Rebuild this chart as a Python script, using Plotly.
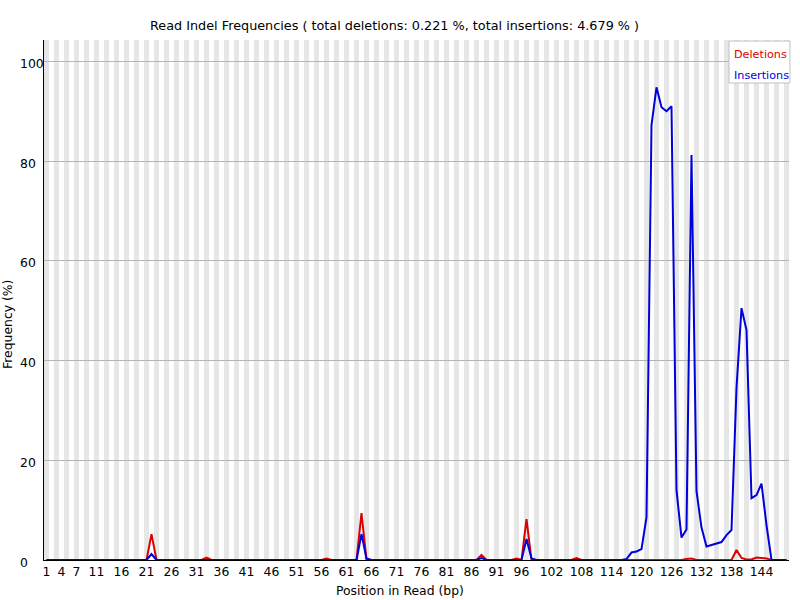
import plotly.graph_objects as go

# read positions 1..149
positions = list(range(1, 150))

deletions = [
    0, 0, 0, 0, 0, 0, 0, 0, 0, 0,
    0, 0, 0, 0, 0, 0, 0, 0, 0, 0,
    0, 5.2, 0, 0, 0, 0, 0, 0, 0, 0,
    0, 0, 0.5, 0, 0, 0, 0, 0, 0, 0,
    0, 0, 0, 0, 0, 0, 0, 0, 0, 0,
    0, 0, 0, 0, 0, 0, 0.3, 0, 0, 0,
    0, 0, 0, 9.4, 0, 0, 0, 0, 0, 0,
    0, 0, 0, 0, 0, 0, 0, 0, 0, 0,
    0, 0, 0, 0, 0, 0, 0, 1.0, 0, 0,
    0, 0, 0, 0, 0.3, 0, 8.2, 0, 0, 0,
    0, 0, 0, 0, 0, 0, 0.4, 0, 0, 0,
    0, 0, 0, 0, 0, 0, 0, 0, 0, 0,
    0, 0, 0, 0, 0, 0, 0, 0, 0.2, 0.3,
    0, 0, 0, 0, 0, 0, 0, 0, 2.0, 0.4,
    0.1, 0.1, 0.5, 0.4, 0.3, 0, 0, 0, 0,
]

insertions = [
    0, 0, 0, 0, 0, 0, 0, 0, 0, 0,
    0, 0, 0, 0, 0, 0, 0, 0, 0, 0,
    0, 1.2, 0, 0, 0, 0, 0, 0, 0, 0,
    0, 0, 0, 0, 0, 0, 0, 0, 0, 0,
    0, 0, 0, 0, 0, 0, 0, 0, 0, 0,
    0, 0, 0, 0, 0, 0, 0, 0, 0, 0,
    0, 0, 0, 5.2, 0.3, 0, 0, 0, 0, 0,
    0, 0, 0, 0, 0, 0, 0, 0, 0, 0,
    0, 0, 0, 0, 0, 0, 0, 0.4, 0, 0,
    0, 0, 0, 0, 0, 0, 4.2, 0.3, 0, 0,
    0, 0, 0, 0, 0, 0, 0, 0, 0, 0,
    0, 0, 0, 0, 0, 0, 0.2, 1.5, 1.7, 2.2,
    8.6, 87.2, 94.8, 90.8, 90.0, 91.0, 14.0, 4.5, 6.1, 81.2,
    13.8, 6.5, 2.7, 3.0, 3.3, 3.6, 5.0, 6.0, 34.5, 50.5,
    46.1, 12.4, 13.0, 15.3, 7.0, 0, 0, 0, 0,
]

x_tick_vals = [1, 4, 7, 11, 16, 21, 26, 31, 36, 41, 46, 51, 56, 61, 66, 71, 76, 81,
               86, 91, 96, 102, 108, 114, 120, 126, 132, 138, 144]
x_tick_text = [str(v) for v in x_tick_vals]
y_tick_vals = [0, 20, 40, 60, 80, 100]

y_max = max(insertions) * 1.1

FONT = "DejaVu Sans"
FS = 12.4
RED = "rgb(220,0,0)"
BLUE = "rgb(0,0,220)"

fig = go.Figure()
fig.add_trace(go.Scatter(x=positions, y=deletions, mode="lines",
                         line=dict(color=RED, width=2), name="Deletions"))
fig.add_trace(go.Scatter(x=positions, y=insertions, mode="lines",
                         line=dict(color=BLUE, width=2), name="Insertions"))

# alternating grey stripes behind the data
for p in positions:
    if p % 2 == 1:
        fig.add_shape(type="rect", xref="x", yref="paper", x0=p - 0.5, x1=p + 0.5,
                      y0=0, y1=1, fillcolor="rgb(230,230,230)", line_width=0,
                      layer="below")

# legend box (pixels 729..790 x 41..83)
fig.add_shape(type="rect", xref="paper", yref="paper", x0=0.9195, x1=1.0013,
              y0=0.9173, y1=0.998, fillcolor="white",
              line=dict(color="rgb(192,192,192)", width=1), layer="above")

annotations = [
    dict(text="Deletions", x=0.9235, y=0.9712, font=dict(color=RED)),
    dict(text="Insertions", x=0.9235, y=0.9313, font=dict(color=BLUE)),
]
for a in annotations:
    a.update(xref="paper", yref="paper", xanchor="left", yanchor="middle",
             showarrow=False)
    a["font"].update(family=FONT, size=11.2)
    fig.add_annotation(**a)

# y tick labels are left aligned in the original
for v in y_tick_vals:
    fig.add_annotation(text=str(v), xref="paper", yref="y", x=-0.0349, y=v,
                       xanchor="left", yanchor="middle", yshift=-2, showarrow=False,
                       font=dict(family=FONT, size=FS, color="black"))

fig.add_annotation(text="Frequency (%)", xref="paper", yref="paper", x=-0.0483,
                   y=0.452, textangle=-90, showarrow=False, xanchor="center",
                   yanchor="middle", font=dict(family=FONT, size=FS, color="black"))
fig.add_annotation(text="Position in Read (bp)", xref="paper", yref="paper",
                   x=0.478, y=-0.0577, showarrow=False, xanchor="center",
                   yanchor="middle", font=dict(family=FONT, size=FS, color="black"))
fig.add_annotation(text="Read Indel Frequencies ( total deletions: 0.221 %, total insertions: 4.679 % )",
                   xref="paper", yref="paper", x=0.4698, y=1.0288, showarrow=False,
                   xanchor="center", yanchor="middle",
                   font=dict(family=FONT, size=12.8, color="black"))

fig.update_layout(
    width=800, height=600,
    margin=dict(l=44, r=11, t=40, b=40),
    paper_bgcolor="white", plot_bgcolor="white",
    showlegend=False,
    font=dict(family=FONT, size=FS, color="black"),
    xaxis=dict(range=[0.5, 149.5], tickvals=x_tick_vals, ticktext=x_tick_text,
               showgrid=False, zeroline=False, showline=True, linecolor="black",
               linewidth=1, ticks="", tickfont=dict(family=FONT, size=FS, color="black")),
    yaxis=dict(range=[0, y_max], tickvals=y_tick_vals[1:], showticklabels=False,
               showgrid=True, gridcolor="rgb(180,180,180)", gridwidth=1,
               zeroline=False, showline=True, linecolor="black", linewidth=1,
               ticks=""),
)

# drop the default 8px body margin so the figure sits at the page corner
fig.write_html("out.html", config={"displayModeBar": False},
               post_script="document.body.style.margin='0px';")
